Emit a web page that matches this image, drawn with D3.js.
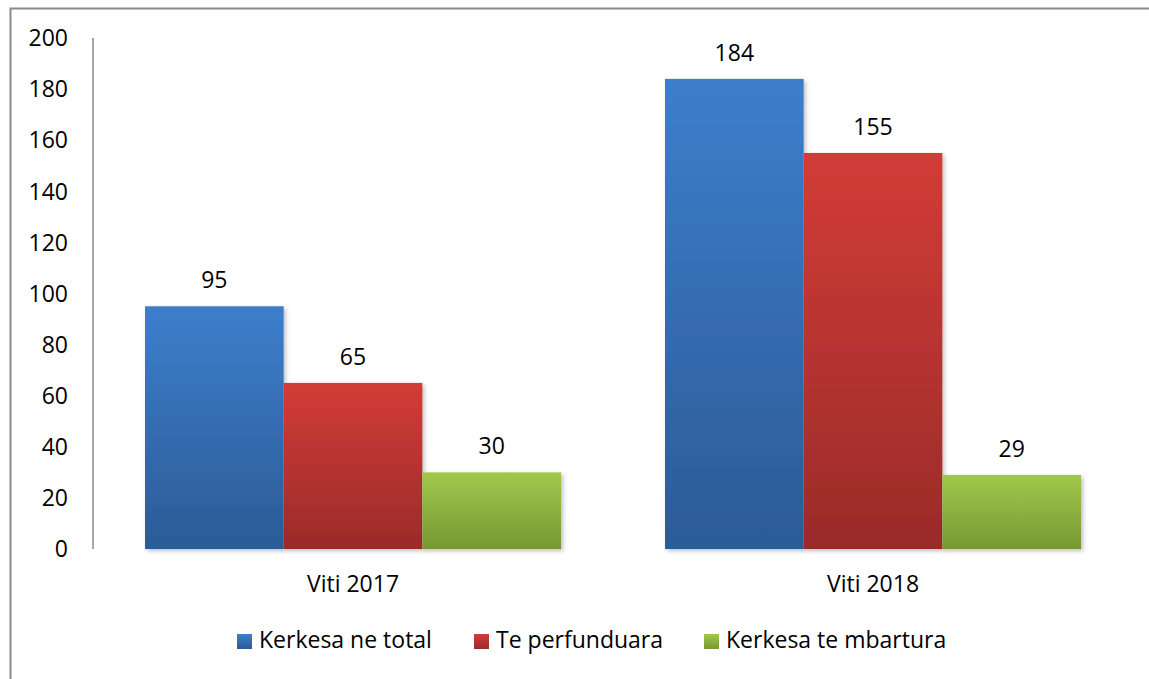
<!DOCTYPE html>
<html>
<head>
<meta charset="utf-8">
<script src="https://cdn.jsdelivr.net/npm/d3@7"></script>
<style>
  html, body { margin: 0; padding: 0; background: #fff; }
  svg { display: block; font-family: "Open Sans", Lato, sans-serif; }
</style>
</head>
<body>
<svg id="chart" width="1149" height="679"></svg>
<script>
// chart data
var categories = ['Viti 2017', 'Viti 2018'];
var seriesNames = ['Kerkesa ne total', 'Te perfunduara', 'Kerkesa te mbartura'];
var totalValues = [95, 184];
var doneValues = [65, 155];
var carriedValues = [30, 29];
var yTicks = [0, 20, 40, 60, 80, 100, 120, 140, 160, 180, 200];

var seriesValues = [totalValues, doneValues, carriedValues];
var colors = [
	{ top: '#3d7ecc', bottom: '#2c5b96' },
	{ top: '#d23c37', bottom: '#9a2b2a' },
	{ top: '#a0c94c', bottom: '#789734' }
];

var fontSize = 23;

var svg = d3.select('#chart');
var defs = svg.append('defs');

colors.forEach(function(c, i) {
	var g = defs.append('linearGradient')
		.attr('id', 'grad' + i)
		.attr('x1', 0).attr('y1', 0)
		.attr('x2', 0).attr('y2', 1);
	g.append('stop').attr('offset', '0%').attr('stop-color', c.top);
	g.append('stop').attr('offset', '100%').attr('stop-color', c.bottom);
});

var shadow = defs.append('filter')
	.attr('id', 'shadow')
	.attr('x', '-10%').attr('y', '-10%')
	.attr('width', '130%').attr('height', '130%');
shadow.append('feDropShadow')
	.attr('dx', 2).attr('dy', 2)
	.attr('stdDeviation', 2)
	.attr('flood-color', '#000')
	.attr('flood-opacity', 0.25);

// outer frame (right and bottom edges fall outside the picture)
svg.append('rect')
	.attr('x', 10.5).attr('y', 8.5)
	.attr('width', 1160).attr('height', 690)
	.attr('fill', 'none')
	.attr('stroke', '#8a8a8a')
	.attr('stroke-width', 2);

var plotLeft = 93, plotRight = 1133, plotTop = 38, plotBottom = 549;

var y = d3.scaleLinear()
	.domain([0, 200])
	.range([plotBottom, plotTop]);

var x0 = d3.scaleBand()
	.domain(categories)
	.range([plotLeft, plotRight])
	.padding(0);

var x1 = d3.scaleBand()
	.domain(d3.range(seriesNames.length))
	.range([52, x0.bandwidth() - 52]);

// y axis labels
svg.selectAll('.ytick')
	.data(yTicks)
	.enter()
	.append('text')
	.attr('class', 'ytick')
	.attr('x', 68)
	.attr('y', function(d) { return y(d); })
	.attr('dy', '0.36em')
	.attr('text-anchor', 'end')
	.attr('font-size', fontSize)
	.attr('fill', '#000')
	.text(function(d) { return d; });

// bars
var groups = svg.selectAll('.group')
	.data(categories)
	.enter()
	.append('g')
	.attr('class', 'group')
	.attr('transform', function(d) { return 'translate(' + x0(d) + ',0)'; });

function rows(d, ci) {
	return seriesValues.map(function(vals, si) {
		return { s: si, v: vals[ci] };
	});
}

groups.selectAll('rect')
	.data(rows)
	.enter()
	.append('rect')
	.attr('x', function(d) { return x1(d.s); })
	.attr('y', function(d) { return y(d.v); })
	.attr('width', x1.bandwidth())
	.attr('height', function(d) { return plotBottom - y(d.v); })
	.attr('fill', function(d) { return 'url(#grad' + d.s + ')'; })
	.attr('filter', 'url(#shadow)');

groups.selectAll('.val')
	.data(rows)
	.enter()
	.append('text')
	.attr('class', 'val')
	.attr('x', function(d) { return x1(d.s) + x1.bandwidth() / 2; })
	.attr('y', function(d) { return y(d.v) - 18; })
	.attr('text-anchor', 'middle')
	.attr('font-size', fontSize)
	.text(function(d) { return d.v; });

// axis lines
svg.append('line')
	.attr('x1', plotLeft).attr('x2', plotLeft)
	.attr('y1', plotTop).attr('y2', plotBottom)
	.attr('stroke', '#8a8a8a')
	.attr('stroke-width', 1.5);

svg.append('line')
	.attr('x1', plotLeft).attr('x2', plotRight)
	.attr('y1', plotBottom).attr('y2', plotBottom)
	.attr('stroke', '#8a8a8a')
	.attr('stroke-width', 1.5)
	.attr('filter', 'url(#shadow)');

// category labels
svg.selectAll('.cat')
	.data(categories)
	.enter()
	.append('text')
	.attr('class', 'cat')
	.attr('x', function(d) { return x0(d) + x0.bandwidth() / 2; })
	.attr('y', 592)
	.attr('text-anchor', 'middle')
	.attr('font-size', fontSize)
	.text(function(d) { return d; });

// legend
var legendX = [237, 474, 704];
var legend = svg.selectAll('.legend')
	.data(seriesNames)
	.enter()
	.append('g')
	.attr('class', 'legend')
	.attr('transform', function(d, i) { return 'translate(' + legendX[i] + ',634)'; });

legend.append('rect')
	.attr('width', 15).attr('height', 15)
	.attr('fill', function(d, i) { return 'url(#grad' + i + ')'; });

legend.append('text')
	.attr('x', 22)
	.attr('y', 14)
	.attr('font-size', fontSize)
	.text(function(d) { return d; });
</script>
</body>
</html>
